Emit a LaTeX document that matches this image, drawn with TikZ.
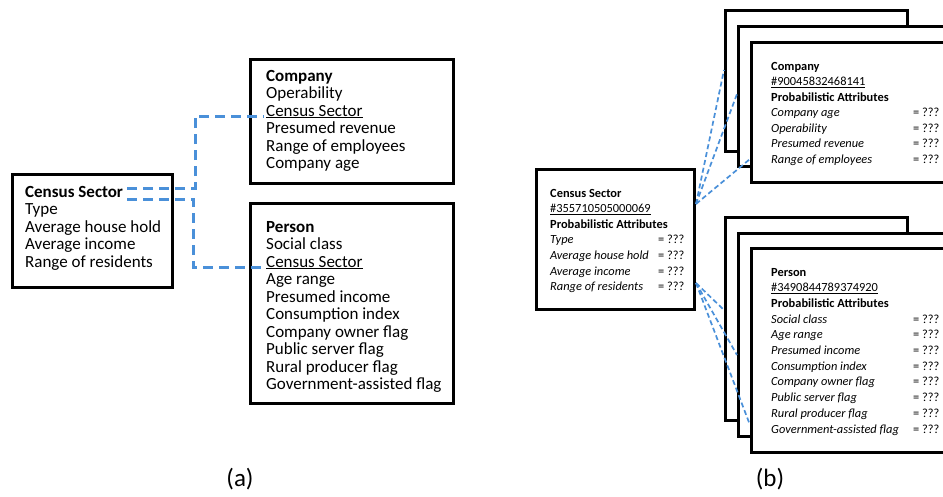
\documentclass[tikz,border=0pt]{standalone}
\usepackage{fontspec}
\setmainfont{Carlito}
\usetikzlibrary{calc}
\definecolor{linkblue}{RGB}{74,144,217}
\begin{document}
\begin{tikzpicture}[x=1pt,y=-1pt,
  box/.style={draw, line width=3pt, fill=white, anchor=north west, inner sep=0pt},
  txa/.style={anchor=base west, inner sep=0pt, font=\fontsize{17}{17.5}\selectfont},
  txb/.style={anchor=base west, inner sep=0pt, font=\fontsize{12.4}{15.6}\selectfont},
  qb/.style={anchor=base west, inner sep=0pt, font=\fontsize{12.4}{15.6}\selectfont},
  lbl/.style={inner sep=0pt, font=\fontsize{25}{28}\selectfont},
  dasha/.style={draw=linkblue, line width=3pt, dash pattern=on 10pt off 6pt},
  dashb/.style={draw=linkblue, line width=1.7pt, dash pattern=on 5pt off 3pt}]
\useasboundingbox (0,0) rectangle (943,496);
\clip (0,0) rectangle (943,496);

% ---------------- panel (a) ----------------
\node[box, minimum width=160pt, minimum height=113pt] (csA) at (11,173) {};
\node[box, minimum width=203pt, minimum height=124pt] (coA) at (249,58) {};
\node[box, minimum width=203pt, minimum height=200pt] (peA) at (249,202) {};

\node[txa] (csA0) at (25,197) {\bfseries Census Sector};
\foreach \t [count=\i] in {Type,Average house hold,Average income,Range of residents}
  \node[txa] (csA\i) at (25,{197+17.5*\i}) {\t};

\node[txa] (coA0) at (266,81) {\bfseries Company};
\foreach \t [count=\i] in {Operability,\underline{Census Sector},Presumed revenue,Range of employees,Company age}
  \node[txa] (coA\i) at (266,{81+17.5*\i}) {\t};

\node[txa] (peA0) at (266,232) {\bfseries Person};
\foreach \t [count=\i] in {Social class,\underline{Census Sector},Age range,Presumed income,Consumption index,Company owner flag,Public server flag,Rural producer flag,Government-assisted flag}
  \node[txa] (peA\i) at (266,{232+17.5*\i}) {\t};

\coordinate (pa1) at (127,188);
\coordinate (pa2) at (127,199);
\coordinate (ja1) at (195,188);
\coordinate (ja2) at (193,199);
\draw[dasha] (pa1) -- (ja1) |- ([xshift=-2pt]coA2.base west);
\draw[dasha] (pa2) -- (ja2) |- ([xshift=-2pt]peA2.base west);

\node[lbl] (la) at (240,479) {(a)};

% ---------------- panel (b) ----------------
\node[box, minimum width=158pt, minimum height=140pt] (csB) at (535,168) {};
\node[box, minimum width=182pt, minimum height=141pt] (coB1) at (724,9) {};
\node[box, minimum width=300pt, minimum height=140pt] (coB2) at (737,25) {};
\node[box, minimum width=300pt, minimum height=140pt] (coB3) at (750,41) {};
\node[box, minimum width=182pt, minimum height=203pt] (peB1) at (724,216) {};
\node[box, minimum width=300pt, minimum height=203pt] (peB2) at (737,232) {};
\node[box, minimum width=300pt, minimum height=204pt] (peB3) at (750,247) {};

% census sector (b)
\node[txb] (csBh) at (550,197) {\bfseries Census Sector};
\node[txb] (csBid) at (550,212.5) {\underline{\#355710505000069}};
\node[txb] (csBpa) at (550,228) {\bfseries Probabilistic Attributes};
\foreach \t [count=\i] in {Type,Average house hold,Average income,Range of residents}{
  \node[txb] (csBa\i) at (550,{228+15.7*\i}) {\itshape \t};
  \node[qb] (csBq\i) at (658,{228+15.7*\i}) {= ???};
}

% company (b)
\node[txb] (coBh) at (771,70) {\bfseries Company};
\node[txb] (coBid) at (771,85.5) {\underline{\#90045832468141}};
\node[txb] (coBpa) at (771,101) {\bfseries Probabilistic Attributes};
\foreach \t [count=\i] in {Company age,Operability,Presumed revenue,Range of employees}{
  \node[txb] (coBa\i) at (771,{101+15.6*\i}) {\itshape \t};
  \node[qb] (coBq\i) at (913,{101+15.6*\i}) {= ???};
}

% person (b)
\node[txb] (peBh) at (771,276) {\bfseries Person};
\node[txb] (peBid) at (771,291.7) {\underline{\#3490844789374920}};
\node[txb] (peBpa) at (771,307.4) {\bfseries Probabilistic Attributes};
\foreach \t [count=\i] in {Social class,Age range,Presumed income,Consumption index,Company owner flag,Public server flag,Rural producer flag,Government-assisted flag}{
  \node[txb] (peBa\i) at (771,{307.4+15.7*\i}) {\itshape \t};
  \node[qb] (peBq\i) at (913,{307.4+15.7*\i}) {= ???};
}

% connectors (b)
\coordinate (sb1) at (696,204);
\coordinate (sb2) at (696,283);
\draw[dashb] (sb1) -- (coB1.west |- 0,70);
\draw[dashb] (sb1) -- (coB2.west |- 0,94);
\draw[dashb] (sb1) -- (coB3.west |- 0,159);
\draw[dashb] (sb2) -- (peB1.west |- 0,310);
\draw[dashb] (sb2) -- (peB2.west |- 0,355);
\draw[dashb] (sb2) -- (peB3.west |- 0,425);

\node[lbl] (lb) at (770,479) {(b)};
\end{tikzpicture}
\end{document}
